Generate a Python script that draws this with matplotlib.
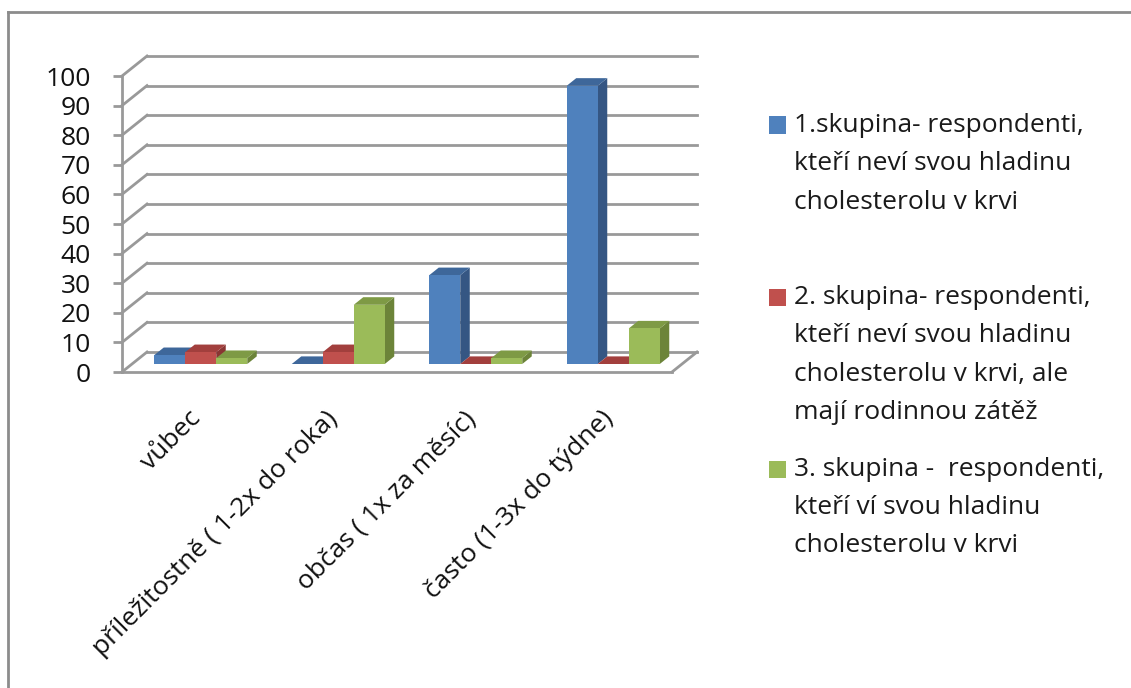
import matplotlib.pyplot as plt
from matplotlib.patches import Polygon, Rectangle
from matplotlib.lines import Line2D

plt.rcParams['font.family'] = ['Open Sans', 'DejaVu Sans']

categories = ['vůbec', 'příležitostně ( 1-2x do roka)', 'občas ( 1x za měsíc)', 'často (1-3x do týdne)']
group1 = [3, 0, 30, 94]
group2 = [4, 4, 0, 0]
group3 = [2, 20, 2, 12]
series_names = [
    '1.skupina- respondenti,\nkteří neví svou hladinu\ncholesterolu v krvi',
    '2. skupina- respondenti,\nkteří neví svou hladinu\ncholesterolu v krvi, ale\nmají rodinnou zátěž',
    '3. skupina -  respondenti,\nkteří ví svou hladinu\ncholesterolu v krvi',
]
yticks = list(range(0, 101, 10))

# front, side, top
colors = [
    ('#4F81BD', '#355683', '#3E679A'),
    ('#C0504D', '#8A3533', '#A23F3D'),
    ('#9BBB59', '#6C8439', '#7E9A45'),
]
grid_col = '#999999'
fs = 19

W, H = 1131, 688
fig = plt.figure(figsize=(W / 100, H / 100), dpi=100)
# front plot rectangle in pixels: x 122..672, y 76..372
ax = fig.add_axes([122 / W, 1 - 372 / H, 550 / W, 296 / H])
ax.set_xlim(-0.5, 3.5)
ax.set_ylim(0, 100)

px_x = 550 / 4.0     # pixels per category
px_y = 296 / 100.0   # pixels per value unit
DX = 25 / px_x
DY = 20 / px_y
bw = 31 / px_x
f0 = 0.4    # depth position of bar front face
dep = 0.38  # bar depth fraction

# back wall gridlines and side wall diagonals
for v in yticks:
    ax.plot([-0.5 + DX, 3.5 + DX], [v + DY, v + DY], color=grid_col, lw=2, clip_on=False, zorder=1)
    ax.plot([-0.5, -0.5 + DX], [v, v + DY], color=grid_col, lw=2, clip_on=False, zorder=1)
ax.plot([3.5, 3.5 + DX], [0, DY], color=grid_col, lw=2, clip_on=False, zorder=1)

# bars
series = [group1, group2, group3]
for i in range(len(categories)):
    for s, vals in enumerate(series):
        h = vals[i]
        front, side, top = colors[s]
        x0 = i - 1.5 * bw + s * bw + f0 * DX
        y0 = f0 * DY
        ddx, ddy = dep * DX, dep * DY
        ax.add_patch(Polygon([(x0 + bw, y0), (x0 + bw + ddx, y0 + ddy),
                              (x0 + bw + ddx, y0 + h + ddy), (x0 + bw, y0 + h)],
                             closed=True, facecolor=side, edgecolor='none', clip_on=False, zorder=3))
        ax.add_patch(Polygon([(x0, y0 + h), (x0 + bw, y0 + h),
                              (x0 + bw + ddx, y0 + h + ddy), (x0 + ddx, y0 + h + ddy)],
                             closed=True, facecolor=top, edgecolor='none', clip_on=False, zorder=3))
        ax.bar(x0 + bw / 2, h, bw, bottom=y0, color=front, zorder=3, clip_on=False)

for sp in ['top', 'right']:
    ax.spines[sp].set_visible(False)
for sp in ['left', 'bottom']:
    ax.spines[sp].set_color(grid_col)
    ax.spines[sp].set_linewidth(2)
ax.set_yticks(yticks)
ax.set_yticklabels([str(v) for v in yticks], fontsize=fs, color='#111111')
ax.tick_params(axis='y', length=6.5, width=2, color=grid_col, pad=16)
ax.set_xticks([i + f0 * DX - 0.03 for i in range(len(categories))])
ax.set_xticklabels(categories, fontsize=fs, color='#111111', rotation=45,
                   ha='right', va='center', rotation_mode='anchor')
ax.tick_params(axis='x', length=0, pad=31)
ax.patch.set_alpha(0)

# legend
entry_top = [125, 297, 469]
line_step = 38.5
for s, name in enumerate(series_names):
    y = entry_top[s]
    fig.add_artist(Rectangle((769 / W, 1 - (y + 8.5) / H), 17 / W, 17 / H,
                             transform=fig.transFigure, facecolor=colors[s][0], edgecolor='none'))
    for k, line in enumerate(name.split('\n')):
        fig.text(794 / W, 1 - (y + k * line_step) / H, line, fontsize=fs,
                 color='#1a1a1a', ha='left', va='center')

# outer frame (left and top only visible)
fig.add_artist(Line2D([7.5 / W, 7.5 / W], [0, 1 - 12 / H], transform=fig.transFigure, color='#8c8c8c', lw=2))
fig.add_artist(Line2D([7.5 / W, 1], [1 - 12 / H, 1 - 12 / H], transform=fig.transFigure, color='#8c8c8c', lw=2))

fig.savefig('out.png', dpi=100)
